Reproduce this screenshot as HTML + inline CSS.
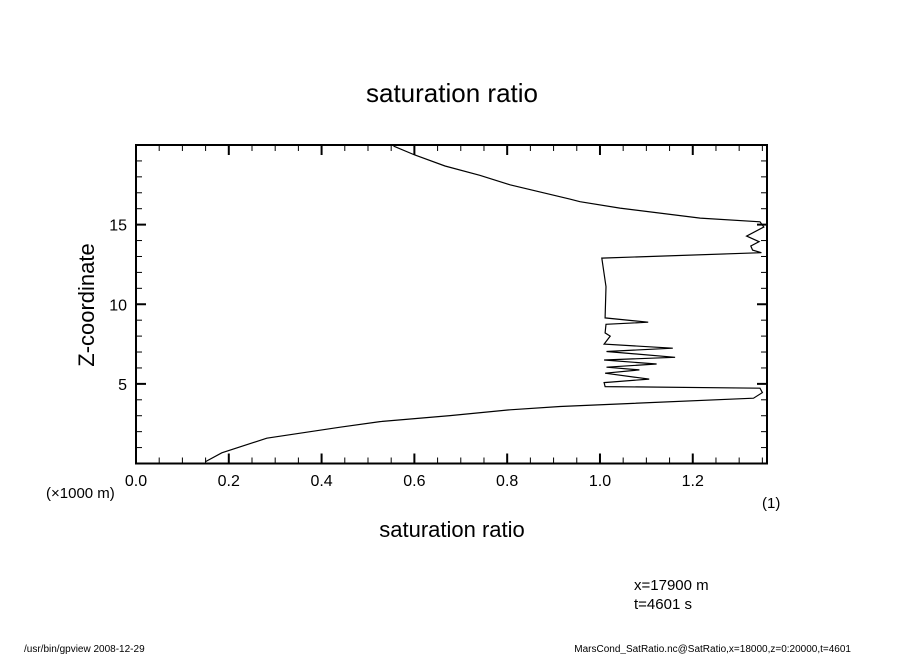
<!DOCTYPE html>
<html><head><meta charset="utf-8"><style>
body{margin:0;background:#fff}
svg text{font-family:"Liberation Sans",sans-serif;fill:#000}
</style></head><body>
<svg id="chart" width="904" height="654" viewBox="0 0 904 654">
<text x="452" y="102" font-size="26" text-anchor="middle">saturation ratio</text>
<g id="axes"></g>
<text x="452" y="537" font-size="22" text-anchor="middle">saturation ratio</text>
<text transform="translate(94,305) rotate(-90)" font-size="22" text-anchor="middle">Z-coordinate</text>
<text x="46" y="498" font-size="15">(×1000 m)</text>
<text x="762" y="508" font-size="15">(1)</text>
<text x="634" y="590" font-size="15">x=17900 m</text>
<text x="634" y="609" font-size="15">t=4601 s</text>
<text x="24" y="652" font-size="10">/usr/bin/gpview  2008-12-29</text>
<text x="851" y="652" font-size="10" text-anchor="end">MarsCond_SatRatio.nc@SatRatio,x=18000,z=0:20000,t=4601</text>
</svg>
<script>
const xTicks=[0.0,0.2,0.4,0.6,0.8,1.0,1.2];
const yTicks=[5,10,15];
const zVals=[0.1,0.67,1.59,2.28,2.63,3.01,3.37,3.58,4.1,4.45,4.73,4.83,5.08,5.3,5.67,5.88,6.05,6.25,6.5,6.67,7.03,7.24,7.5,8.0,8.2,8.74,8.87,9.14,11.1,12.9,13.24,13.4,13.66,13.93,14.28,14.85,15.18,15.41,16.04,16.44,16.6,17.5,18.1,18.68,19.37,19.93];
const satVals=[0.149,0.185,0.282,0.44,0.526,0.677,0.806,0.914,1.331,1.35,1.345,1.011,1.009,1.106,1.011,1.085,1.014,1.122,1.009,1.162,1.014,1.157,1.009,1.022,1.011,1.013,1.104,1.011,1.013,1.004,1.348,1.329,1.325,1.343,1.316,1.353,1.345,1.216,1.043,0.957,0.935,0.806,0.741,0.666,0.601,0.555];
const L=136,R=767,T=145,B=463.5,xMin=0,xMax=1.36,yMin=0,yMax=20;
const sx=v=>L+(v-xMin)/(xMax-xMin)*(R-L);
const sy=v=>B-(v-yMin)/(yMax-yMin)*(B-T);
const NS="http://www.w3.org/2000/svg";
const g=document.getElementById('axes');
function mk(t,a){const e=document.createElementNS(NS,t);for(const k in a)e.setAttribute(k,a[k]);g.appendChild(e);return e;}
const frame=mk('rect',{x:L,y:T,width:R-L,height:B-T,fill:'none',stroke:'#000','stroke-width':2});


for(let v=0;v<=xMax+1e-9;v+=0.05){
  const major=Math.abs(v/0.2-Math.round(v/0.2))<1e-6;
  const len=major?10:6,w=major?2:1;
  const t1=mk('line',{x1:sx(v),x2:sx(v),y1:B,y2:B-len,stroke:'#000','stroke-width':w});
  
  
  const t2=mk('line',{x1:sx(v),x2:sx(v),y1:T,y2:T+len,stroke:'#000','stroke-width':w});
  
  
}
for(let v=1;v<20;v++){
  const major=v%5===0,len=major?10:6,w=major?2:1;
  const t1=mk('line',{x1:L,x2:L+len,y1:sy(v),y2:sy(v),stroke:'#000','stroke-width':w});
  
  
  const t2=mk('line',{x1:R,x2:R-len,y1:sy(v),y2:sy(v),stroke:'#000','stroke-width':w});
  
  
}
xTicks.forEach(v=>{
  const t=mk('text',{x:sx(v),y:486,'font-size':16,'text-anchor':'middle'});
  t.textContent=v.toFixed(1);
  
  
});
yTicks.forEach(v=>{
  const t=mk('text',{x:127,y:sy(v)+6,'font-size':16,'text-anchor':'end'});
  t.textContent=v;
  
  
});
const d=zVals.map((z,i)=>(i?'L':'M')+sx(satVals[i]).toFixed(1)+','+sy(z).toFixed(1)).join(' ');
const p=mk('path',{d:d,fill:'none',stroke:'#000','stroke-width':1.2});


</script>
</body></html>
